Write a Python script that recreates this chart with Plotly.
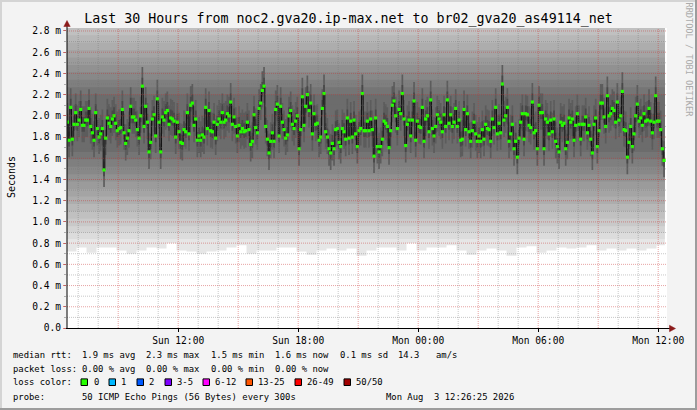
import pandas as pd
import plotly.graph_objects as go

# ---------------------------------------------------------------- data
TITLE = "Last 30 Hours from noc2.gva20.ip-max.net to br02_gva20_as49114_net"
SAMPLE_START = "2026-08-02 06:25:00"
SAMPLE_STEP = "5min"
VIEW_START = "2026-08-02 06:26:25"
VIEW_END = "2026-08-03 12:26:25"

# median RTT per 5-minute sample (ms)
median_ms = [
    1.94, 1.77, 2.08, 1.78, 1.92, 2.03, 1.92, 1.96, 2.06, 1.91,
    1.91, 1.96, 1.96, 2.07, 1.90, 1.84, 1.77, 2.03, 1.88, 1.80,
    1.83, 1.88, 1.49, 1.79, 1.98, 1.93, 1.90, 1.97, 2.00, 1.93,
    1.86, 1.88, 1.89, 2.06, 1.84, 1.74, 1.79, 1.86, 2.09, 1.99,
    1.99, 1.96, 1.87, 1.79, 2.00, 2.28, 1.90, 2.09, 1.94, 1.66,
    1.75, 1.97, 2.01, 1.81, 2.16, 1.94, 1.66, 1.99, 1.96, 2.03,
    2.05,
    1.92, 1.98, 1.97, 1.95, 1.80, 1.94, 1.85, 1.75, 1.74, 1.87,
    1.85, 2.03, 1.83, 2.10, 2.12, 1.91, 1.97, 1.77, 1.81, 1.77,
    1.82, 1.80, 2.08, 1.88, 2.05, 1.86, 1.85, 1.94, 1.79, 1.92,
    1.97, 1.94, 2.03, 1.94, 1.96, 2.02, 2.00, 2.13, 1.92, 1.99,
    1.90, 1.81, 1.91, 1.85, 1.88, 1.85, 1.86, 1.94, 1.87, 1.73,
    1.76, 2.01, 1.89, 1.84, 2.07, 2.12, 2.24, 2.28, 1.90, 1.78,
    1.65, 1.76, 1.84, 1.76, 2.06, 2.11, 1.81, 2.09, 1.94, 1.87,
    1.79, 1.82, 2.00, 2.05, 1.92, 1.88, 1.95, 2.00, 1.69, 1.87,
    2.18, 1.91, 2.09, 2.20, 2.05, 2.12, 1.83, 2.02, 1.92, 1.93,
    1.77, 1.80, 2.07, 2.21, 1.85, 1.80, 1.69, 1.65, 1.74, 1.69,
    1.87, 1.88, 1.75, 1.71, 1.88, 1.85, 1.78, 1.98, 1.79, 1.95,
    1.80, 1.96, 1.83, 1.71, 1.86, 1.88, 2.21, 1.86, 1.86, 1.95,
    1.86, 1.97, 1.87, 1.62, 1.98, 1.71, 1.66, 1.71, 1.78, 1.95,
    1.93, 1.90, 1.70, 1.86, 2.10, 2.14, 2.00, 1.88, 2.06, 2.02,
    2.21, 1.97, 1.72, 1.92, 1.96, 1.81, 1.96, 2.14, 1.77, 1.95,
    1.90, 1.89, 2.08, 1.76, 1.97, 2.00, 1.85, 2.15, 1.88, 1.81,
    1.90, 2.01, 1.97, 1.94, 1.85, 2.01, 1.90, 2.15, 1.93, 2.01,
    1.90, 1.94, 2.07, 1.90, 1.96, 1.77, 1.78, 2.06, 1.87, 2.02,
    1.85, 1.76, 1.86, 1.94, 1.83, 1.76, 1.81, 1.76, 1.87, 1.78,
    1.92, 1.88, 1.87, 1.76, 1.97, 1.89, 2.08, 1.83, 1.93, 1.84,
    2.30, 1.96, 2.00, 2.08, 1.76, 1.83, 1.92, 1.69, 1.76, 1.61,
    1.79, 1.94, 2.02, 1.78, 2.02, 2.01, 1.91, 1.89, 2.13, 1.84,
    1.86, 1.69, 2.10, 2.03, 2.03, 1.69, 1.97, 1.94, 1.83, 1.96,
    1.85, 1.97, 1.76, 1.71, 1.66, 1.94, 1.91, 1.93, 1.69, 1.75,
    1.98, 1.94, 1.97, 1.77, 1.91, 2.02, 1.92, 1.78, 1.92, 1.92,
    1.99, 1.84, 1.91, 1.78, 1.65, 1.92, 1.98, 1.71, 1.86, 2.12,
    2.12, 1.99, 1.90, 2.19, 2.00, 2.02, 2.07, 2.05, 1.94, 2.13,
    1.96, 2.00, 2.23, 1.87, 1.86, 1.61, 1.75, 1.90, 1.71, 1.83,
    2.00, 2.11, 1.95, 1.98, 1.91, 2.02, 1.95, 1.96, 2.07, 1.95,
    1.84, 1.94, 2.19, 1.95, 1.95, 1.87, 1.69, 1.58,
]

# lowest extent of the smoke per 30-minute block (ms)
SMOKE_FLOOR_BLOCK = 6  # samples per block
smoke_floor_ms = [
    0.72, 0.76, 0.71, 0.76, 0.76, 0.73, 0.70, 0.73, 0.76, 0.75,
    0.80, 0.73, 0.72, 0.70, 0.72, 0.73, 0.76, 0.78, 0.70, 0.73,
    0.73, 0.76, 0.76, 0.72, 0.69, 0.73, 0.75, 0.73, 0.75, 0.68,
    0.73, 0.76, 0.76, 0.73, 0.80, 0.73, 0.76, 0.76, 0.78, 0.73,
    0.69, 0.73, 0.75, 0.73, 0.68, 0.76, 0.77, 0.71, 0.73, 0.76,
    0.75, 0.76, 0.78, 0.73, 0.75, 0.73, 0.75, 0.73, 0.75, 0.78,
]
smoke_top_ms = 3.0

# smoke shading bands (ms): typical band edges and tones
smoke_band_low_ms = [0.84, 0.90, 0.96, 1.03, 1.10, 1.17, 1.24, 1.31, 1.38, 1.45, 1.52, 1.59, 1.66]
smoke_band_high_ms = [3.00, 3.00, 2.92, 2.84, 2.76, 2.69, 2.62, 2.55, 2.48, 2.41, 2.34, 2.27, 2.20]
smoke_band_gray = ["#DCDCDC", "#D3D3D3", "#C9C9C9", "#C0C0C0", "#B7B7B7", "#ADADAD", "#A4A4A4",
                   "#9B9B9B", "#919191", "#888888", "#7F7F7F", "#757575", "#6C6C6C"]
smoke_floor_gray = "#E6E6E6"
# darker core around each median (distance below / above median, ms)
smoke_core_below_ms = [0.16, 0.06]
smoke_core_above_ms = [0.18, 0.08]
smoke_core_gray = ["#5C5C5C", "#484848"]

y_tick_values = [0.0, 0.2, 0.4, 0.6, 0.8, 1.0, 1.2, 1.4, 1.6, 1.8, 2.0, 2.2, 2.4, 2.6, 2.8]
y_tick_labels = ["0.0", "0.2 m", "0.4 m", "0.6 m", "0.8 m", "1.0 m", "1.2 m", "1.4 m",
                 "1.6 m", "1.8 m", "2.0 m", "2.2 m", "2.4 m", "2.6 m", "2.8 m"]
y_max = 2.828
x_tick_values = ["2026-08-02 12:00", "2026-08-02 18:00", "2026-08-03 00:00",
                 "2026-08-03 06:00", "2026-08-03 12:00"]

rtt_label = "median rtt:"
rtt_items = ["1.9 ms avg", "2.3 ms max", "1.5 ms min", "1.6 ms now", "0.1 ms sd", "14.3", "am/s"]
loss_label = "packet loss:"
loss_items = ["0.00 % avg", "0.00 % max", "0.00 % min", "0.00 % now"]
color_label = "loss color:"
loss_bucket_labels = ["0", "1", "2", "3-5", "6-12", "13-25", "26-49", "50/50"]
loss_bucket_colors = ["#26FF00", "#00B8FF", "#0059FF", "#7E00FF", "#FF00FF", "#FF5500", "#FF0000", "#A10000"]
probe_label = "probe:"
probe_text = "50 ICMP Echo Pings (56 Bytes) every 300s"
stamp_text = "Mon Aug\u00a0 3 12:26:25 2026"
side_text = "RRDTOOL / TOBI OETIKER"

# ---------------------------------------------------------------- layout geometry (pixels)
FIG_W, FIG_H = 697, 410
L, T, PW, PH = 67, 28, 600, 300
MONO = "DejaVu Sans Mono"

rtt_x = [81, 145, 210, 274, 339, 397, 435]
loss_x = [81, 145, 210, 274]
swatch_x = [81, 109, 137, 165, 203, 246, 295, 344]
swatch_label_x = [93, 120, 148, 176, 214, 257, 306, 355]
row_y = [355, 368.5, 382.2, 396.6]


def fx(px):
    return (px - L) / PW


def fy(py):
    return (T + PH - py) / PH


# ---------------------------------------------------------------- derived sample times
n = len(median_ms)
starts = pd.date_range(SAMPLE_START, periods=n, freq=SAMPLE_STEP)
step = pd.Timedelta(SAMPLE_STEP)
centers = starts + step / 2
last_end = starts[-1] + step
x_step = list(starts) + [last_end]


def stepped(vals):
    return list(vals) + [vals[-1]]


fig = go.Figure()


def band(xs, lo, hi, color):
    fig.add_trace(go.Scatter(x=xs, y=lo, mode="lines", line=dict(width=0, shape="hv"),
                             hoverinfo="skip", showlegend=False))
    fig.add_trace(go.Scatter(x=xs, y=hi, mode="lines", line=dict(width=0, shape="hv"),
                             fill="tonexty", fillcolor=color, hoverinfo="skip", showlegend=False))


# outermost smoke, its lower edge per 30-minute block
block_x = list(starts[::SMOKE_FLOOR_BLOCK]) + [last_end]
nb = len(block_x) - 1
floor_vals = smoke_floor_ms[:nb]
band(block_x, stepped(floor_vals), [smoke_top_ms] * (nb + 1), smoke_floor_gray)

# shading bands
edge_x = [starts[0], last_end]
for lo, hi, g in zip(smoke_band_low_ms, smoke_band_high_ms, smoke_band_gray):
    band(edge_x, [lo, lo], [hi, hi], g)

# dark core following the median
for below, above, g in zip(smoke_core_below_ms, smoke_core_above_ms, smoke_core_gray):
    lo = [m - below for m in median_ms]
    hi = [m + above for m in median_ms]
    band(x_step, stepped(lo), stepped(hi), g)

# median step line
fig.add_trace(go.Scatter(x=x_step, y=stepped(median_ms), mode="lines",
                         line=dict(color="#141414", width=1, shape="hv"),
                         hoverinfo="skip", showlegend=False))
# median marks coloured by loss (0 loss -> green)
fig.add_trace(go.Scatter(x=centers, y=median_ms, mode="markers",
                         marker=dict(symbol="square", size=3.2, color=loss_bucket_colors[0],
                                     line=dict(width=0)),
                         hoverinfo="skip", showlegend=False))

shapes = []
# grid (drawn above the smoke like rrdtool)
RED = "rgba(200,50,50,0.45)"
GRAY = "rgba(110,110,110,0.38)"
for h in pd.date_range("2026-08-02 07:00", "2026-08-03 12:00", freq="h"):
    col = RED if h.hour % 3 == 0 else GRAY
    shapes.append(dict(type="line", xref="x", yref="paper", x0=h, x1=h, y0=0, y1=1,
                       line=dict(color=col, width=1, dash="1px,1px"), layer="above"))
for k in range(1, 29):
    v = k / 10
    col = RED if k % 2 == 0 else GRAY
    shapes.append(dict(type="line", xref="paper", yref="y", x0=0, x1=1, y0=v, y1=v,
                       line=dict(color=col, width=1, dash="1px,1px"), layer="above"))

# axes lines and arrows
shapes.append(dict(type="line", xref="paper", yref="paper", x0=fx(67), x1=fx(67), y0=fy(328.5), y1=fy(25),
                   line=dict(color="#000000", width=1), layer="above"))
shapes.append(dict(type="line", xref="paper", yref="paper", x0=fx(66), x1=fx(670), y0=fy(328.5), y1=fy(328.5),
                   line=dict(color="#000000", width=1), layer="above"))
ARROW = "#8B1A1A"
shapes.append(dict(type="path", xref="paper", yref="paper",
                   path=f"M {fx(67)},{fy(20.5)} L {fx(63.8)},{fy(26.5)} L {fx(70.2)},{fy(26.5)} Z",
                   fillcolor=ARROW, line=dict(color=ARROW, width=0.5), layer="above"))
shapes.append(dict(type="path", xref="paper", yref="paper",
                   path=f"M {fx(675.5)},{fy(328.5)} L {fx(669.5)},{fy(325.3)} L {fx(669.5)},{fy(331.7)} Z",
                   fillcolor=ARROW, line=dict(color=ARROW, width=0.5), layer="above"))

# outer frame
shapes.append(dict(type="rect", xref="paper", yref="paper", x0=fx(0), x1=fx(FIG_W), y0=fy(0), y1=fy(2),
                   fillcolor="#D4D4D4", line=dict(width=0), layer="above"))
shapes.append(dict(type="rect", xref="paper", yref="paper", x0=fx(0), x1=fx(2), y0=fy(0), y1=fy(FIG_H),
                   fillcolor="#D4D4D4", line=dict(width=0), layer="above"))
shapes.append(dict(type="rect", xref="paper", yref="paper", x0=fx(0), x1=fx(FIG_W), y0=fy(FIG_H - 2), y1=fy(FIG_H),
                   fillcolor="#9C9C9C", line=dict(width=0), layer="above"))
shapes.append(dict(type="rect", xref="paper", yref="paper", x0=fx(FIG_W - 2), x1=fx(FIG_W), y0=fy(0), y1=fy(FIG_H),
                   fillcolor="#9C9C9C", line=dict(width=0), layer="above"))

# legend swatches
for sx, c in zip(swatch_x, loss_bucket_colors):
    shapes.append(dict(type="rect", xref="paper", yref="paper", x0=fx(sx), x1=fx(sx + 6.5),
                       y0=fy(row_y[2] - 3.3), y1=fy(row_y[2] + 3.3),
                       fillcolor=c, line=dict(color="#000000", width=1), layer="above"))

annotations = []


def text(s, px, py, size=8.9, anchor="left", angle=0, color="#000000"):
    annotations.append(dict(text=s, xref="paper", yref="paper", x=fx(px), y=fy(py),
                            xanchor=anchor, yanchor="middle", showarrow=False, textangle=angle,
                            borderpad=0, font=dict(family=MONO, size=size, color=color)))


text(rtt_label, 12, row_y[0])
for s, px in zip(rtt_items, rtt_x):
    text(s, px, row_y[0])
text(loss_label, 12, row_y[1])
for s, px in zip(loss_items, loss_x):
    text(s, px, row_y[1])
text(color_label, 12, row_y[2])
for s, px in zip(loss_bucket_labels, swatch_label_x):
    text(s, px, row_y[2])
text(probe_label, 12, row_y[3])
text(probe_text, 81, row_y[3])
text(stamp_text, 385, row_y[3])
text("Seconds", 11, 177, size=10, anchor="center", angle=-90)
text(side_text, 688.5, 60, size=8.6, anchor="center", angle=90, color="#ABABAB")

fig.update_layout(
    width=FIG_W, height=FIG_H, autosize=False,
    margin=dict(l=L, r=FIG_W - L - PW, t=T, b=FIG_H - T - PH, pad=0),
    paper_bgcolor="#F3F3F3", plot_bgcolor="#FFFFFF",
    title=dict(text=TITLE, x=0.5, xref="container", xanchor="center",
               y=1 - 18 / FIG_H, yref="container", yanchor="middle",
               font=dict(family=MONO, size=13.3, color="#000000")),
    showlegend=False,
    shapes=shapes, annotations=annotations,
    xaxis=dict(type="date", range=[VIEW_START, VIEW_END], tickmode="array", tickvals=x_tick_values,
               tickformat="%a %H:%M", showgrid=False, zeroline=False, showline=False,
               ticks="outside", ticklen=3, tickcolor="#000000", tickwidth=1,
               tickfont=dict(family=MONO, size=9.6, color="#000000"), fixedrange=True),
    yaxis=dict(range=[0, y_max], tickmode="array", tickvals=y_tick_values, ticktext=y_tick_labels,
               showgrid=False, zeroline=False, showline=False,
               ticks="outside", ticklen=3, tickcolor="rgba(200,50,50,0.6)", tickwidth=1,
               minor=dict(dtick=0.1, ticks="outside", ticklen=2, tickcolor="rgba(110,110,110,0.5)", showgrid=False),
               tickfont=dict(family=MONO, size=9.6, color="#000000"), fixedrange=True),
)

fig.write_html("out.html", config={"displayModeBar": False},
               post_script="document.body.style.margin='0';document.body.style.overflow='hidden';")
